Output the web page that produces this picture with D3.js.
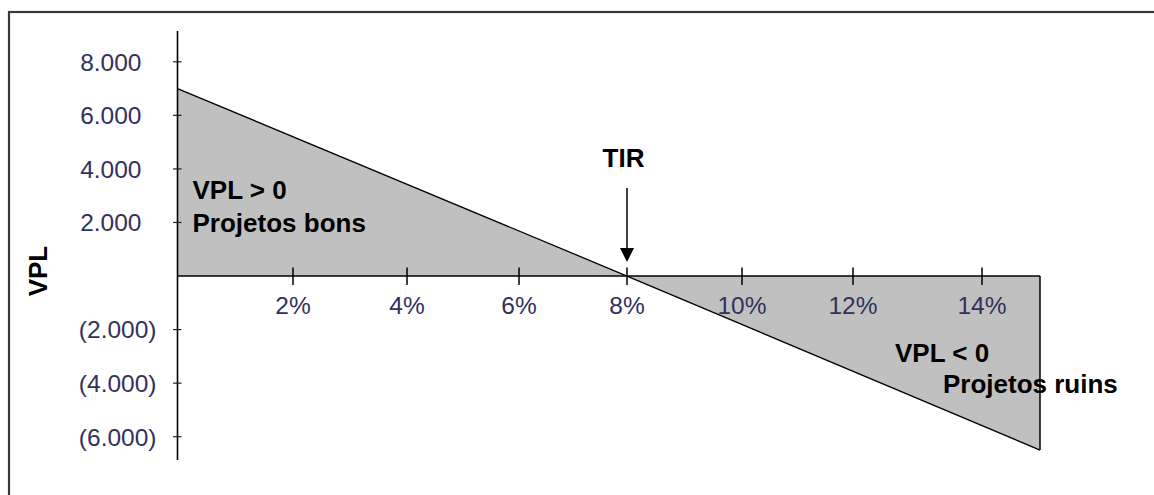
<!DOCTYPE html>
<html>
<head>
<meta charset="utf-8">
<script src="https://cdn.jsdelivr.net/npm/d3@7/dist/d3.min.js"></script>
<style>
  html, body { margin: 0; padding: 0; background: #fff; }
  svg { display: block; }
</style>
</head>
<body>
<svg id="chart" width="1154" height="495"></svg>
<script>
// ---- data ----
const rates = [0, 8, 15];                 // taxa de desconto (%)
const vplValues = [7000, 0, -6500];       // VPL
const yTickValues = [8000, 6000, 4000, 2000, -2000, -4000, -6000];
const yTickLabels = ["8.000", "6.000", "4.000", "2.000", "(2.000)", "(4.000)", "(6.000)"];
const xTickValues = [2, 4, 6, 8, 10, 12, 14];
const xTickLabels = ["2%", "4%", "6%", "8%", "10%", "12%", "14%"];
const tirRate = 8;
const yAxisTitle = "VPL";
const tirLabel = "TIR";
const positiveNote = ["VPL > 0", "Projetos bons"];
const negativeNote = ["VPL < 0", "Projetos ruins"];

// ---- layout ----
const svg = d3.select("#chart");
const font = "'Liberation Sans', Arial, sans-serif";

const x = d3.scaleLinear()
  .domain([0, 2, 4, 6, 8, 10, 12, 14, 15])
  .range([177.5, 293, 407, 519, 627, 742, 853, 982, 1040]);
const y = d3.scaleLinear().domain([-6870, 9150]).range([460, 31]);

// outer frame (cropped on right and bottom)
svg.append("rect")
  .attr("x", 9).attr("y", 12).attr("width", 1200).attr("height", 600)
  .attr("fill", "none").attr("stroke", "#3a3a3a").attr("stroke-width", 2.2);

const pts = rates.map((r, i) => ({ r, v: vplValues[i] }));

// grey area between curve and zero
svg.append("path")
  .datum(pts)
  .attr("d", d3.area().x(d => x(d.r)).y0(y(0)).y1(d => y(d.v)))
  .attr("fill", "#c0c0c0");

// VPL line
svg.append("path")
  .datum(pts)
  .attr("d", d3.line().x(d => x(d.r)).y(d => y(d.v)))
  .attr("fill", "none").attr("stroke", "#000").attr("stroke-width", 1.3);

// right edge of the area
svg.append("line")
  .attr("x1", x(15)).attr("x2", x(15))
  .attr("y1", y(0)).attr("y2", y(vplValues[vplValues.length - 1]))
  .attr("stroke", "#000").attr("stroke-width", 1.5);

// x axis line
svg.append("line")
  .attr("x1", x(0)).attr("x2", x(15))
  .attr("y1", y(0)).attr("y2", y(0))
  .attr("stroke", "#000").attr("stroke-width", 1.6);

// x ticks (cross)
svg.selectAll(".xt").data(xTickValues).enter().append("line")
  .attr("x1", d => x(d)).attr("x2", d => x(d))
  .attr("y1", y(0) - 8.5).attr("y2", y(0) + 9)
  .attr("stroke", "#000").attr("stroke-width", 1.5);

svg.selectAll(".xl").data(xTickValues).enter().append("text")
  .attr("x", d => x(d)).attr("y", y(0) + 38)
  .attr("text-anchor", "middle")
  .attr("font-family", font).attr("font-size", 24.5)
  .attr("fill", "#33305e")
  .text((d, i) => xTickLabels[i]);

// y axis line
svg.append("line")
  .attr("x1", x(0)).attr("x2", x(0))
  .attr("y1", y.range()[1]).attr("y2", y.range()[0])
  .attr("stroke", "#000").attr("stroke-width", 1.6);

// y ticks (cross)
svg.selectAll(".yt").data(yTickValues).enter().append("line")
  .attr("x1", x(0) - 4.5).attr("x2", x(0) + 4)
  .attr("y1", d => y(d)).attr("y2", d => y(d))
  .attr("stroke", "#222").attr("stroke-width", 1.2);

svg.selectAll(".yl").data(yTickValues).enter().append("text")
  .attr("x", d => d < 0 ? x(0) - 21 : x(0) - 36)
  .attr("y", d => y(d))
  .attr("dy", "0.36em")
  .attr("text-anchor", "end")
  .attr("font-family", font).attr("font-size", 24.5)
  .attr("fill", "#33305e")
  .text((d, i) => yTickLabels[i]);

// y axis title
svg.append("text")
  .attr("transform", `translate(47, ${y(0) - 5}) rotate(-90)`)
  .attr("text-anchor", "middle")
  .attr("font-family", font).attr("font-size", 26).attr("font-weight", "bold")
  .attr("fill", "#000")
  .text(yAxisTitle);

// TIR arrow
const tx = x(tirRate);
svg.append("line")
  .attr("x1", tx).attr("x2", tx)
  .attr("y1", y(0) - 88).attr("y2", y(0) - 26)
  .attr("stroke", "#000").attr("stroke-width", 1.5);
svg.append("path")
  .attr("d", `M${tx - 7},${y(0) - 28} L${tx + 7},${y(0) - 28} L${tx},${y(0) - 14} Z`)
  .attr("fill", "#000");
svg.append("text")
  .attr("x", tx - 3.5).attr("y", y(0) - 109)
  .attr("text-anchor", "middle")
  .attr("font-family", font).attr("font-size", 26).attr("font-weight", "bold")
  .attr("fill", "#000")
  .text(tirLabel);

// annotations
const note = (lines, xs, ys) => {
  lines.forEach((t, i) => {
    svg.append("text")
      .attr("x", xs[i]).attr("y", ys[i])
      .attr("font-family", font).attr("font-size", 26).attr("font-weight", "bold")
      .attr("fill", "#000")
      .text(t);
  });
};
note(positiveNote, [x(0) + 15, x(0) + 15], [y(0) - 77, y(0) - 44]);
note(negativeNote, [x(12) + 42, x(12) + 90], [y(0) + 86, y(0) + 117]);
</script>
</body>
</html>
